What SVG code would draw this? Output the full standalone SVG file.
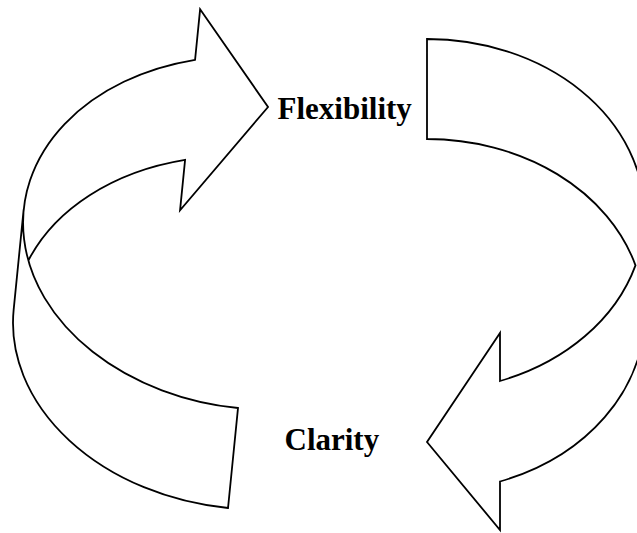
<svg xmlns="http://www.w3.org/2000/svg" width="637" height="533" viewBox="0 0 637 533">
  <style>
    .body { fill: #ffffff; stroke: none; }
    .edge { fill: none; stroke: #000000; stroke-width: 1.8; stroke-linejoin: miter; }
    .label { font-family: "Liberation Serif", "Times New Roman", serif; font-weight: bold; font-size: 31px; fill: #000000; }
  </style>
  <rect width="637" height="533" fill="#ffffff"/>

  <!-- curved arrow sweeping up the left side, head pointing right -->
  <g id="arrow-left" transform="rotate(5.7 238 408)">
    <path class="body" d="M 5,332.4 A 233 176.1 0 0 0 238,508.5 L 238,408 A 233 176.1 0 0 1 14.7,282.15 A 233 176.1 0 0 0 5,332.4 Z"/>
    <path class="body" d="M 5,332.4 A 233 176.1 0 0 1 160.7,166.3 L 160.7,217.05 L 238,105.5 L 160.7,15.05 L 160.7,65.8 A 233 176.1 0 0 0 5,231.9 Z"/>
    <path class="edge" d="M 14.7,282.15 A 233 176.1 0 0 1 160.7,166.3 L 160.7,217.05 L 238,105.5 L 160.7,15.05 L 160.7,65.8 A 233 176.1 0 0 0 238,408 L 238,508.5 A 233 176.1 0 0 1 5,332.4 L 5,231.9"/>
  </g>

  <!-- curved arrow sweeping down the right side, head pointing left -->
  <g id="arrow-right">
    <path class="body" d="M 644.5,215.1 A 217.5 176.1 0 0 0 427,39 L 427,139 A 217.5 176.1 0 0 1 635.5,265.35 A 217.5 176.1 0 0 0 644.5,215.1 Z"/>
    <path class="body" d="M 644.5,215.1 A 217.5 176.1 0 0 1 500,381 L 500,333 L 427,442 L 500,530 L 500,481.5 A 217.5 176.1 0 0 0 644.5,315.6 Z"/>
    <path class="edge" d="M 427,39 L 427,139 A 217.5 176.1 0 0 1 635.5,265.35 A 217.5 176.1 0 0 1 500,381 L 500,333 L 427,442 L 500,530 L 500,481.5 A 217.5 176.1 0 0 0 644.5,315.6 L 644.5,215.1 A 217.5 176.1 0 0 0 427,39 Z"/>
  </g>

  <g id="label-flexibility">
    <text class="label" x="277.5" y="118.5">Flexibility</text>
  </g>
  <g id="label-clarity">
    <text class="label" x="284.5" y="449.5">Clarity</text>
  </g>

  <g id="connectors"></g>
</svg>
